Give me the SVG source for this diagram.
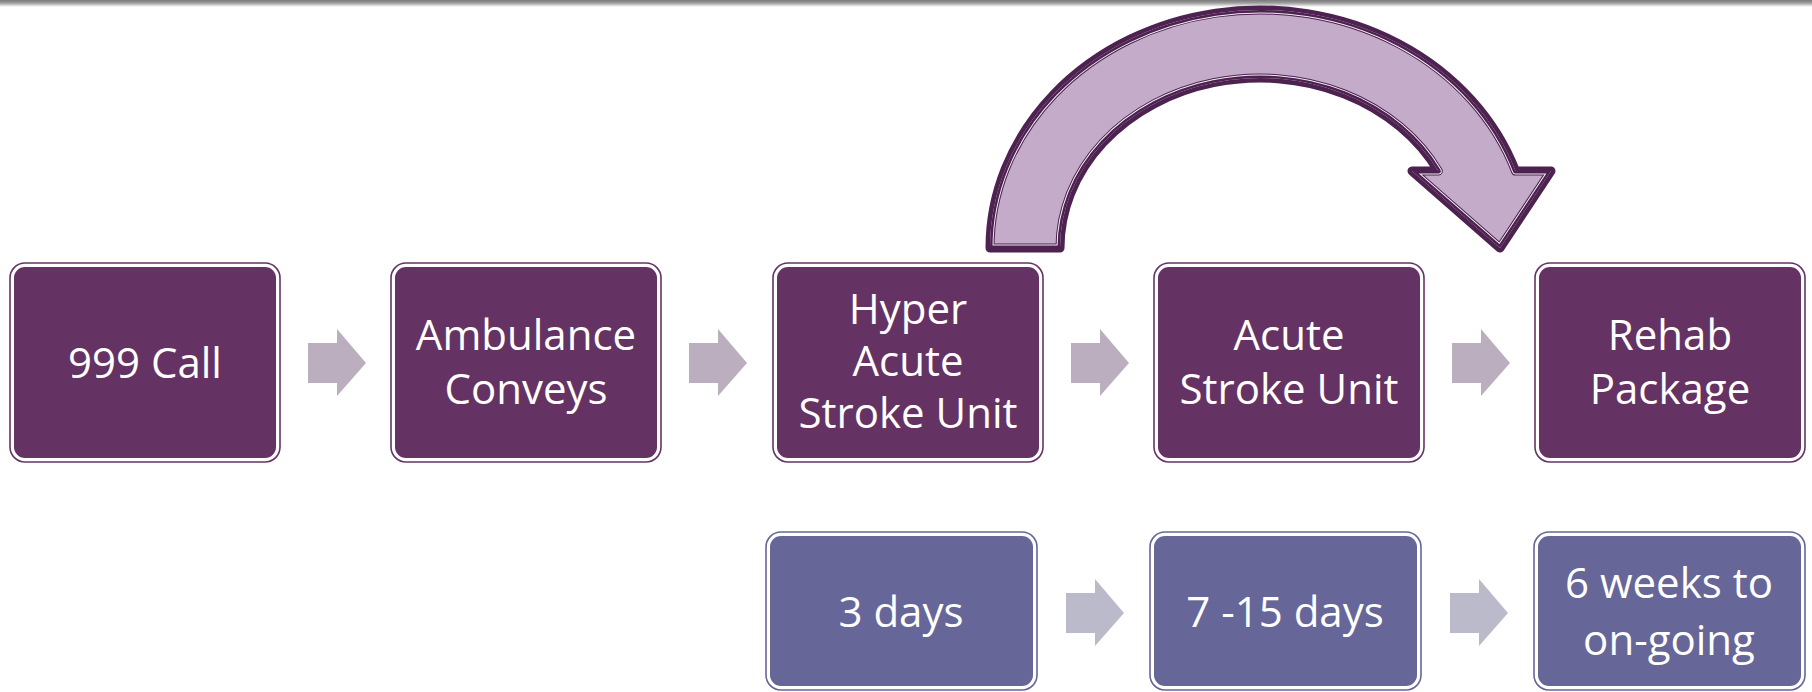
<svg xmlns="http://www.w3.org/2000/svg" width="1812" height="692" viewBox="0 0 1812 692">
<defs>
<linearGradient id="topshade" x1="0" y1="0" x2="0" y2="1">
<stop offset="0" stop-color="#7a7a7a"/>
<stop offset="0.4" stop-color="#9a9a9a"/>
<stop offset="1" stop-color="#ffffff"/>
</linearGradient>
<clipPath id="curveClip">
<path d="M 990 248 A 270 238 0 0 1 1515.5 171 L 1551 171 L 1500 248 L 1412 171 L 1438.3 171 A 200 170 0 0 0 1060 248 Z"/>
</clipPath>
<symbol id="arr" overflow="visible">
<path d="M 0 14 L 29 14 L 29 0 L 58 34 L 29 67 L 29 54 L 0 54 Z"/>
</symbol>
</defs>
<style>
.outer{fill:#ffffff;stroke-width:1.6}
.top .outer{stroke:#663366}
.top .inner{fill:#653264}
.bot .outer{stroke:#666699}
.bot .inner{fill:#666699}
.lbl{font-family:"Open Sans","Liberation Sans",sans-serif;font-size:42px;fill:#ffffff;text-anchor:middle}
.ta{fill:#bbafbf}
.ba{fill:#bbbacb}
</style>
<rect x="0" y="0" width="1812" height="692" fill="#ffffff"/>
<rect x="0" y="0" width="1812" height="7" fill="url(#topshade)"/>

<g id="connectors">
<use href="#arr" x="308" y="329" class="ta"/>
<use href="#arr" x="689" y="329" class="ta"/>
<use href="#arr" x="1071" y="329" class="ta"/>
<use href="#arr" x="1452" y="329" class="ta"/>
<use href="#arr" x="1066" y="579" class="ba"/>
<use href="#arr" x="1450" y="579" class="ba"/>
<g id="curved-arrow" stroke-linejoin="round">
<path d="M 990 248 A 270 238 0 0 1 1515.5 171 L 1551 171 L 1500 248 L 1412 171 L 1438.3 171 A 200 170 0 0 0 1060 248 Z" fill="#c3abc9" stroke="#4d2150" stroke-width="9"/>
<g clip-path="url(#curveClip)" fill="none">
<path d="M 990 248 A 270 238 0 0 1 1515.5 171 L 1551 171 L 1500 248 L 1412 171 L 1438.3 171 A 200 170 0 0 0 1060 248 Z" stroke="#f3eef4" stroke-width="7"/>
<path d="M 990 248 A 270 238 0 0 1 1515.5 171 L 1551 171 L 1500 248 L 1412 171 L 1438.3 171 A 200 170 0 0 0 1060 248 Z" stroke="#4d2150" stroke-width="5"/>
</g>
</g>
</g>

<g id="node-999" class="top">
<rect class="outer" x="10" y="263" width="270" height="199" rx="15"/>
<rect class="inner" x="14" y="267" width="262" height="191" rx="11"/>
<text class="lbl" x="145" y="378">999 Call</text>
</g>
<g id="node-ambulance" class="top">
<rect class="outer" x="391" y="263" width="270" height="199" rx="15"/>
<rect class="inner" x="395" y="267" width="262" height="191" rx="11"/>
<text class="lbl" x="526" y="350">Ambulance</text>
<text class="lbl" x="526" y="404">Conveys</text>
</g>
<g id="node-hyper" class="top">
<rect class="outer" x="773" y="263" width="270" height="199" rx="15"/>
<rect class="inner" x="777" y="267" width="262" height="191" rx="11"/>
<text class="lbl" x="908" y="324">Hyper</text>
<text class="lbl" x="908" y="376">Acute</text>
<text class="lbl" x="908" y="428">Stroke Unit</text>
</g>
<g id="node-acute" class="top">
<rect class="outer" x="1154" y="263" width="270" height="199" rx="15"/>
<rect class="inner" x="1158" y="267" width="262" height="191" rx="11"/>
<text class="lbl" x="1289" y="350">Acute</text>
<text class="lbl" x="1289" y="404">Stroke Unit</text>
</g>
<g id="node-rehab" class="top">
<rect class="outer" x="1535" y="263" width="270" height="199" rx="15"/>
<rect class="inner" x="1539" y="267" width="262" height="191" rx="11"/>
<text class="lbl" x="1670" y="350">Rehab</text>
<text class="lbl" x="1670" y="404">Package</text>
</g>

<g id="node-3days" class="bot">
<rect class="outer" x="766" y="532" width="271" height="158" rx="15"/>
<rect class="inner" x="770" y="536" width="263" height="150" rx="11"/>
<text class="lbl" x="901" y="627">3 days</text>
</g>
<g id="node-7days" class="bot">
<rect class="outer" x="1150" y="532" width="271" height="158" rx="15"/>
<rect class="inner" x="1154" y="536" width="263" height="150" rx="11"/>
<text class="lbl" x="1285" y="627">7 -15 days</text>
</g>
<g id="node-6weeks" class="bot">
<rect class="outer" x="1534" y="532" width="271" height="158" rx="15"/>
<rect class="inner" x="1538" y="536" width="263" height="150" rx="11"/>
<text class="lbl" x="1669" y="598">6 weeks to</text>
<text class="lbl" x="1669" y="655">on-going</text>
</g>
</svg>
